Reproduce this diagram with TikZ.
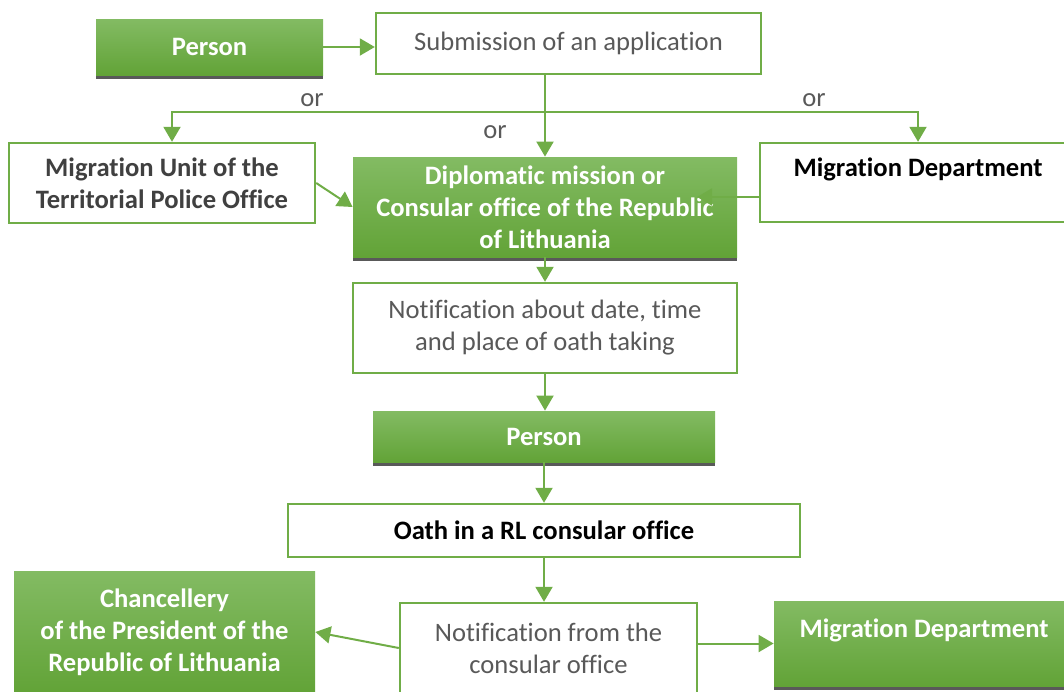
\documentclass[tikz,border=0pt]{standalone}
\usepackage{fontspec}
\setmainfont{Carlito}[Ligatures=NoCommon]
\usepackage{xcolor}
\usepackage{tikz}
\usetikzlibrary{positioning,calc,arrows.meta}

\definecolor{lgreen}{HTML}{70AD47}
\definecolor{gtop}{HTML}{83BB63}
\definecolor{gbot}{HTML}{62A337}
\definecolor{tgray}{HTML}{595959}
\definecolor{dgray}{HTML}{404040}
\definecolor{sgray}{HTML}{595959}

\newcommand{\boxfont}{\fontsize{13.3}{16}\selectfont}

\tikzset{
  greenbox/.style={rectangle, top color=gtop, bottom color=gbot, draw=none,
    text=white, font=\boxfont\bfseries, align=center, inner sep=0pt,
    preaction={fill=sgray, transform canvas={yshift=-2pt}}},
  whitebox/.style={rectangle, draw=lgreen, line width=1.2pt, fill=white,
    text=tgray, font=\boxfont, align=center, inner sep=0pt},
  boldtext/.style={font=\boxfont\bfseries},
  orlabel/.style={text=tgray, font=\boxfont},
  arr/.style={-{Triangle[length=7.5pt,width=8.5pt]}, draw=lgreen, line width=1pt}
}

\begin{document}
\begin{tikzpicture}[x=0.5pt, y=-0.5pt]
  \useasboundingbox (0,0) rectangle (1064,691);

  \node[greenbox, minimum width=113.5pt, minimum height=28pt] (pers1) at (209.5,47) {Person};
  \node[whitebox, minimum width=192.5pt, minimum height=30.5pt] (subm) at (568.5,43.5) {Submission of an application};
  \node[whitebox, boldtext, text=dgray, minimum width=153pt, minimum height=40pt] (mu) at (162,183) {Migration Unit of the\\Territorial Police Office};
  \node[greenbox, minimum width=192pt, minimum height=50pt] (dip) at (545,207) {Diplomatic mission or\\Consular office of the Republic\\of Lithuania};
  \node[whitebox, boldtext, text=black, minimum width=158pt, text height=16.5pt, text depth=23pt] (md1) at (918,182.5) {Migration Department};
  \node[whitebox, minimum width=192pt, minimum height=45pt] (notif1) at (545,328) {Notification about date, time\\and place of oath taking};
  \node[greenbox, minimum width=171pt, minimum height=25.5pt] (pers2) at (544,436.5) {Person};
  \node[whitebox, boldtext, text=black, minimum width=256pt, minimum height=26.5pt] (oath) at (544,530.5) {Oath in a RL consular office};
  \node[greenbox, minimum width=150.5pt, minimum height=61pt] (chanc) at (164.5,632) {Chancellery\\of the President of the\\Republic of Lithuania};
  \node[whitebox, minimum width=148.5pt, minimum height=45pt] (notif2) at (548.5,648) {Notification from the\\consular office};
  \node[greenbox, minimum width=150pt, text height=18pt, text depth=24.5pt] (md2) at (924,643.5) {Migration Department};

  % or labels
  \node[orlabel] (or1) at (312,100) {or};
  \node[orlabel] (or2) at (814,100) {or};
  \node[orlabel] (or3) at (495,132) {or};

  \coordinate (split) at (545,112);
  \coordinate (dipin) at (697,197);

  \draw[arr] (pers1.east) -- (pers1.east -| subm.west);
  \draw[arr] (dip.north |- subm.south) -- (dip.north);
  \draw[arr] (split) -| ([xshift=5pt]mu.north);
  \draw[arr] (split) -| (md1.north);
  \draw[arr] (mu.east) -- (dip.west);
  \draw[arr] (md1.west |- dipin) -- (dipin);
  \draw[arr] (dip.south) -- (notif1.north);
  \draw[arr] (notif1.south) -- (notif1.south |- pers2.north);
  \draw[arr] (pers2.south) -- (pers2.south |- oath.north);
  \draw[arr] (oath.south) -- (oath.south |- notif2.north);
  \draw[arr] (notif2.west) -- (chanc.east);
  \draw[arr] (notif2.east |- md2.west) -- (md2.west);
\end{tikzpicture}
\end{document}
